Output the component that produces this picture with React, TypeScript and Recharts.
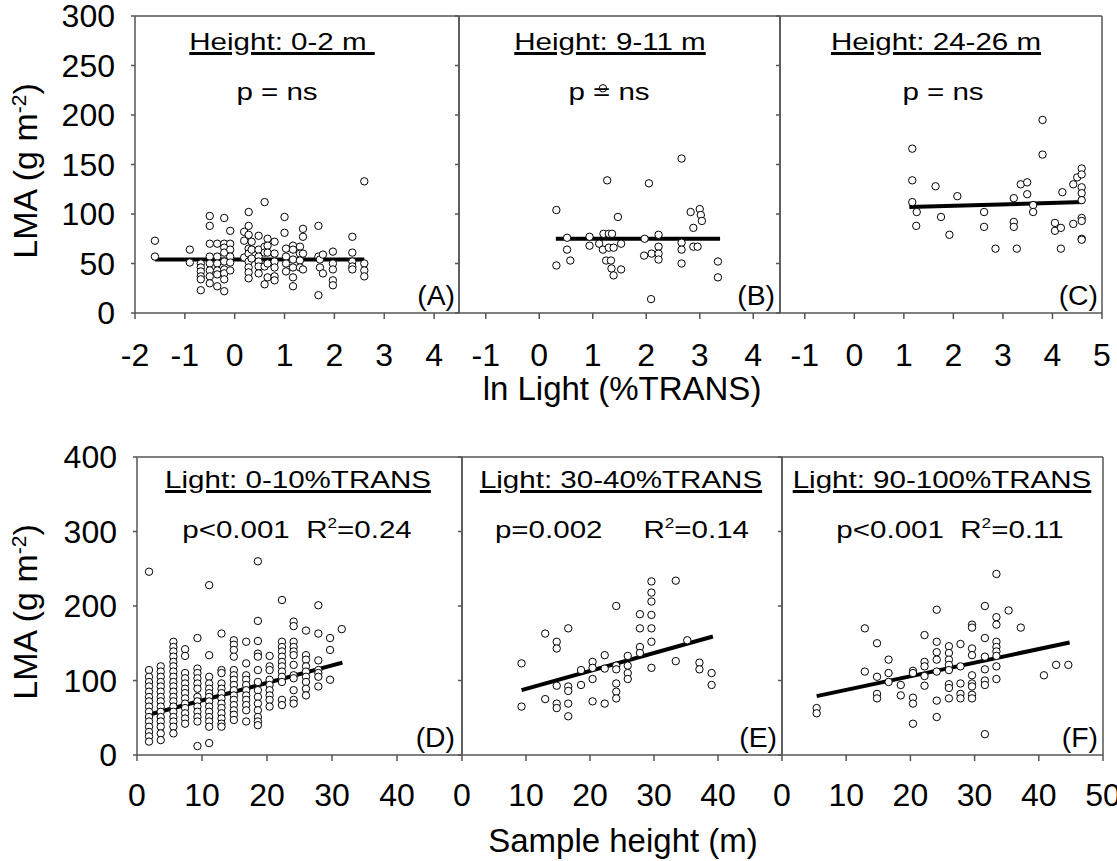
import { ScatterChart, Scatter, XAxis, YAxis, ReferenceLine } from "recharts";
import type { ReactNode } from "react";

const FONT = '"Liberation Sans", Arial, Helvetica, sans-serif';
const AXIS = "#555";

// top row: LMA against ln light, one panel per height class
const xTicksA = [-2, -1, 0, 1, 2, 3, 4];
const xTicksB = [-1, 0, 1, 2, 3, 4];
const xTicksC = [-1, 0, 1, 2, 3, 4, 5];
const yTicksTop = [0, 50, 100, 150, 200, 250, 300];

// [ln light, LMA values at that light]
const colsA: [number, number[]][] = [
  [-1.6, [73, 57]],
  [-0.9, [64, 51]],
  [-0.68, [50, 46, 42, 37, 34, 23]],
  [-0.5, [98, 88, 70, 57, 50, 43, 37, 30]],
  [-0.35, [70, 57, 50, 43, 39, 27]],
  [-0.21, [96, 70, 66, 61, 52, 44, 40, 34, 22]],
  [-0.09, [83, 70, 64, 57, 51, 43]],
  [0.19, [82, 73, 56]],
  [0.28, [102, 88, 79, 65, 60, 52, 46, 41, 35]],
  [0.34, [72, 64, 55]],
  [0.48, [78, 64, 57, 52, 47, 40]],
  [0.6, [112, 67, 61, 47, 29]],
  [0.66, [75, 68, 61, 50, 36]],
  [0.8, [72, 60, 52, 46, 37, 33]],
  [1.0, [97, 81]],
  [1.03, [65, 57, 50, 42]],
  [1.17, [68, 64, 54, 46, 36, 27]],
  [1.31, [67, 60, 53, 46]],
  [1.37, [85, 77, 60, 44]],
  [1.68, [88, 57, 18]],
  [1.71, [54, 46]],
  [1.77, [59, 40]],
  [1.97, [62, 50, 44, 33, 28]],
  [2.36, [77, 61, 52, 47, 44]],
  [2.6, [133, 50, 43, 37]],
];
const fitA: [number, number][] = [[-1.6, 54], [2.6, 54]];

const pairsB: [number, number][] = [
  [0.32, 104], [0.32, 48], [0.52, 76], [0.52, 64], [0.58, 53],
  [0.94, 77], [0.94, 68], [1.12, 70], [1.19, 64], [1.2, 80],
  [1.27, 134], [1.3, 80], [1.36, 80], [1.3, 66], [1.39, 66],
  [1.25, 53], [1.34, 53], [1.35, 45], [1.39, 38], [1.47, 97],
  [1.53, 70], [1.53, 44], [1.19, 227], [1.97, 75], [1.96, 58],
  [2.05, 131], [2.1, 60], [2.23, 79], [2.23, 67], [2.23, 60],
  [2.23, 54], [2.09, 14], [2.66, 156], [2.66, 71], [2.66, 64],
  [2.66, 50], [2.83, 102], [2.88, 86], [2.88, 67], [2.96, 67],
  [3.0, 105], [3.02, 99], [3.04, 93], [3.34, 52], [3.34, 36],
];
const fitB: [number, number][] = [[0.31, 75], [3.38, 75]];

const pairsC: [number, number][] = [
  [1.17, 166], [1.17, 134], [1.17, 112], [1.26, 102], [1.25, 88],
  [1.64, 128], [1.75, 97], [1.92, 79], [2.08, 118], [2.62, 102],
  [2.62, 87], [2.85, 65], [3.22, 116], [3.22, 92], [3.22, 87],
  [3.28, 65], [3.36, 130], [3.49, 132], [3.49, 120], [3.61, 109],
  [3.61, 102], [3.8, 195], [3.8, 160], [4.05, 91], [4.05, 83],
  [4.17, 86], [4.17, 65], [4.2, 122], [4.42, 130], [4.42, 90],
  [4.5, 137], [4.59, 146], [4.59, 140], [4.59, 127], [4.59, 121],
  [4.59, 114], [4.59, 96], [4.59, 93], [4.59, 75], [4.59, 74],
];
const fitC: [number, number][] = [[1.11, 107], [4.62, 112]];

// bottom row: LMA against sample height, one panel per light class
const xTicksHeight = [0, 10, 20, 30, 40];
const xTicksHeightF = [0, 10, 20, 30, 40, 50];
const yTicksBottom = [0, 100, 200, 300, 400];

// [sample height, LMA values at that height]
const colsD: [number, number[]][] = [
  [1.85, [246, 114, 105, 98, 92, 85, 78, 72, 65, 58, 51, 45, 38, 31, 25, 18]],
  [3.65, [119, 112, 105, 98, 92, 85, 78, 72, 65, 58, 51, 45, 38, 29, 20]],
  [5.6, [152, 145, 139, 132, 125, 119, 112, 105, 98, 92, 85, 78, 72, 65, 58, 51, 45, 38, 29]],
  [7.4, [142, 133, 110, 103, 96, 89, 83, 76, 69, 63, 56, 49, 42]],
  [9.3, [157, 116, 110, 103, 96, 89, 78, 72, 65, 58, 51, 45, 12]],
  [11.1, [228, 134, 105, 96, 89, 83, 78, 72, 65, 58, 51, 45, 38, 16]],
  [13.0, [163, 114, 110, 96, 89, 83, 76, 69, 63, 56, 49, 42, 38]],
  [14.9, [154, 148, 141, 132, 114, 107, 101, 94, 87, 80, 74, 67, 60, 54, 47]],
  [16.8, [152, 123, 107, 101, 94, 87, 80, 74, 67, 60, 45]],
  [18.6, [260, 180, 153, 136, 132, 114, 98, 87, 78, 69, 60, 51, 45, 40]],
  [20.4, [133, 119, 114, 101, 94, 87, 80, 74, 65]],
  [22.3, [208, 152, 145, 139, 132, 125, 119, 112, 105, 98, 74, 67]],
  [24.1, [179, 173, 152, 145, 139, 134, 121, 107, 103, 87, 74, 69]],
  [26.0, [167, 134, 128, 119, 112, 105, 98, 89, 80]],
  [27.9, [201, 163, 127, 114, 110, 105, 92]],
  [29.7, [157, 141, 101]],
  [31.5, [169]],
];
const fitD: [number, number][] = [[1.8, 54], [31.6, 124]];

const colsE: [number, number[]][] = [
  [9.3, [123, 65]],
  [13.0, [163, 75]],
  [14.8, [152, 143, 93, 69, 63]],
  [16.6, [170, 92, 86, 69, 52]],
  [18.6, [114, 94]],
  [20.4, [125, 117, 102, 72]],
  [22.3, [134, 116, 69]],
  [24.1, [200, 120, 115, 96, 85, 76]],
  [25.9, [133, 120, 110, 102]],
  [27.8, [189, 170, 145, 137]],
  [29.6, [233, 218, 206, 188, 170, 152, 117]],
  [33.4, [234, 126]],
  [35.2, [154]],
  [37.1, [124, 115]],
  [39.0, [110, 94]],
];
const fitE: [number, number][] = [[9.3, 87], [39.2, 159]];

const colsF: [number, number[]][] = [
  [5.4, [63, 56]],
  [12.9, [170, 112]],
  [14.8, [150, 105, 82, 76]],
  [16.6, [128, 110, 98]],
  [18.5, [94, 80]],
  [20.4, [113, 110, 77, 69, 42]],
  [22.2, [161, 125, 119, 106, 93]],
  [24.1, [195, 152, 138, 128, 112, 73, 51]],
  [26.0, [146, 137, 128, 121, 114, 95, 90, 76]],
  [27.8, [149, 119, 96, 82, 76]],
  [29.6, [175, 171, 143, 134, 107, 96, 92, 81, 76]],
  [31.6, [200, 157, 132, 115, 100, 94, 28]],
  [33.4, [243, 185, 175, 152, 145, 139, 133, 119, 102]],
  [35.3, [194]],
  [37.2, [171]],
  [40.8, [107]],
  [42.7, [121]],
  [44.6, [121]],
];
const fitF: [number, number][] = [[5.4, 79], [44.8, 151]];

type Pt = { x: number; y: number };
const fromCols = (cols: [number, number[]][]): Pt[] =>
  cols.flatMap(([x, ys]) => ys.map((y) => ({ x, y })));
const fromPairs = (pairs: [number, number][]): Pt[] => pairs.map(([x, y]) => ({ x, y }));

function Dot(props: any) {
  const { cx, cy } = props;
  if (cx == null || cy == null) return <g />;
  return <circle cx={cx} cy={cy} r={3.7} fill="#fff" stroke="#000" strokeWidth={1} />;
}

interface PanelProps {
  left: number;
  top: number;
  width: number;
  height: number;
  yw: number;
  xDomain: [number, number];
  xTicks: number[];
  yDomain: [number, number];
  yTicks: number[];
  showY: boolean;
  tickGap: number;
  points: Pt[];
  fit: Pt[];
}

function Panel(p: PanelProps) {
  const RM = 30;
  const TP = 24;
  const XH = 80;
  const axisStyle = { stroke: AXIS, strokeWidth: 1.5 };
  const tickStyle = { fontSize: 32, fill: "#000", fontFamily: FONT };
  return (
    <div style={{ position: "absolute", left: p.left - p.yw, top: p.top - TP }}>
      <ScatterChart
        width={p.yw + p.width + RM}
        height={TP + p.height + XH}
        margin={{ top: TP, right: RM, bottom: 0, left: 0 }}
      >
        <XAxis
          type="number"
          dataKey="x"
          domain={p.xDomain}
          ticks={p.xTicks}
          allowDataOverflow
          interval={0}
          height={XH}
          tickSize={6}
          tickMargin={p.tickGap}
          axisLine={axisStyle}
          tickLine={axisStyle}
          tick={tickStyle}
        />
        <YAxis
          type="number"
          dataKey="y"
          domain={p.yDomain}
          ticks={p.yTicks}
          allowDataOverflow
          interval={0}
          width={p.yw}
          tickSize={4}
          tickMargin={16}
          axisLine={axisStyle}
          tickLine={axisStyle}
          tick={tickStyle}
          tickFormatter={p.showY ? undefined : () => ""}
        />
        <ReferenceLine y={p.yDomain[1]} stroke={AXIS} strokeWidth={1.5} />
        <ReferenceLine x={p.xDomain[1]} stroke={AXIS} strokeWidth={1.5} />
        <Scatter
          data={p.fit}
          line={{ stroke: "#000", strokeWidth: 4 }}
          shape={() => <g />}
          isAnimationActive={false}
        />
        <Scatter data={p.points} shape={Dot} isAnimationActive={false} />
      </ScatterChart>
    </div>
  );
}

interface TxtProps {
  x: number;
  y: number;
  size: number;
  sx?: number;
  anchor?: "start" | "middle" | "end";
  underline?: boolean;
  children: ReactNode;
}

// y is the baseline
function Txt({ x, y, size, sx = 1, anchor = "middle", underline, children }: TxtProps) {
  const tx = anchor === "middle" ? "-50%" : anchor === "end" ? "-100%" : "0";
  const origin = anchor === "middle" ? "center" : anchor === "end" ? "right" : "left";
  return (
    <div
      style={{
        position: "absolute",
        left: x,
        top: y - 0.8465 * size,
        fontSize: size,
        lineHeight: `${size}px`,
        fontFamily: FONT,
        whiteSpace: "pre",
        color: "#000",
        transform: `translateX(${tx}) scaleX(${sx})`,
        transformOrigin: origin,
        textDecoration: underline ? "underline" : "none",
        textDecorationThickness: "2.5px",
        textUnderlineOffset: "2px",
      }}
    >
      {children}
    </div>
  );
}

function R2({ v }: { v: string }) {
  return (
    <>
      R<span style={{ fontSize: "0.58em", verticalAlign: "0.75em", lineHeight: 0 }}>2</span>={v}
    </>
  );
}

function YTitle({ x, y }: { x: number; y: number }) {
  return (
    <div
      style={{
        position: "absolute",
        left: 0,
        top: 0,
        fontSize: 34,
        lineHeight: "34px",
        fontFamily: FONT,
        whiteSpace: "pre",
        transformOrigin: "0 0",
        transform: `translate(${x}px, ${y}px) rotate(-90deg) translate(-50%, -${0.8465 * 34}px)`,
      }}
    >
      LMA (g m<span style={{ fontSize: 21, verticalAlign: 11, lineHeight: 0 }}>-2</span>)
    </div>
  );
}

const T = 24;
const SX = 1.23;

export default function App() {
  const top = { top: 16, height: 297, yDomain: [0, 300] as [number, number], yTicks: yTicksTop, tickGap: 24 };
  const bot = { top: 457, height: 298, yDomain: [0, 400] as [number, number], yTicks: yTicksBottom, tickGap: 22 };
  return (
    <div
      style={{
        position: "absolute",
        left: 0,
        top: 0,
        width: 1117,
        height: 861,
        overflow: "hidden",
        background: "#fff",
        fontFamily: FONT,
      }}
    >
      <Panel {...top} left={135} width={324} yw={135} showY xDomain={[-2, 4.5]} xTicks={xTicksA} points={fromCols(colsA)} fit={fromPairs(fitA)} />
      <Panel {...top} left={459} width={321} yw={20} showY={false} xDomain={[-1.5, 4.5]} xTicks={xTicksB} points={fromPairs(pairsB)} fit={fromPairs(fitB)} />
      <Panel {...top} left={780} width={322} yw={20} showY={false} xDomain={[-1.5, 5]} xTicks={xTicksC} points={fromPairs(pairsC)} fit={fromPairs(fitC)} />

      <Panel {...bot} left={137} width={325} yw={137} showY xDomain={[0, 50]} xTicks={xTicksHeight} points={fromCols(colsD)} fit={fromPairs(fitD)} />
      <Panel {...bot} left={462} width={320} yw={20} showY={false} xDomain={[0, 50]} xTicks={xTicksHeight} points={fromCols(colsE)} fit={fromPairs(fitE)} />
      <Panel {...bot} left={782} width={321} yw={20} showY={false} xDomain={[0, 50]} xTicks={xTicksHeightF} points={fromCols(colsF)} fit={fromPairs(fitF)} />

      <Txt x={281.5} y={50} size={T} sx={SX} underline>{"Height: 0-2 m\u00a0"}</Txt>
      <Txt x={610} y={50} size={T} sx={SX} underline>Height: 9-11 m</Txt>
      <Txt x={935.5} y={50} size={T} sx={SX} underline>Height: 24-26 m</Txt>
      <Txt x={277} y={100} size={T} sx={SX}>p = ns</Txt>
      <Txt x={609} y={100} size={T} sx={SX}>p = ns</Txt>
      <Txt x={943} y={100} size={T} sx={SX}>p = ns</Txt>
      <Txt x={455} y={306} size={27} sx={1.05} anchor="end">(A)</Txt>
      <Txt x={775} y={306} size={27} sx={1.05} anchor="end">(B)</Txt>
      <Txt x={1098} y={306} size={27} sx={1.05} anchor="end">(C)</Txt>

      <Txt x={298} y={488} size={T} sx={SX} underline>Light: 0-10%TRANS</Txt>
      <Txt x={620.5} y={488} size={T} sx={SX} underline>Light: 30-40%TRANS</Txt>
      <Txt x={941.5} y={488} size={T} sx={SX} underline>Light: 90-100%TRANS</Txt>
      <Txt x={297} y={538} size={T} sx={SX}>p&lt;0.001{"  "}<R2 v="0.24" /></Txt>
      <Txt x={622} y={538} size={T} sx={SX}>p=0.002{"     "}<R2 v="0.14" /></Txt>
      <Txt x={950} y={538} size={T} sx={SX}>p&lt;0.001{"  "}<R2 v="0.11" /></Txt>
      <Txt x={455} y={748} size={27} sx={1.05} anchor="end">(D)</Txt>
      <Txt x={777} y={748} size={27} sx={1.05} anchor="end">(E)</Txt>
      <Txt x={1098} y={748} size={27} sx={1.05} anchor="end">(F)</Txt>

      <Txt x={622} y={400} size={33}>ln Light (%TRANS)</Txt>
      <Txt x={623} y={852} size={33}>Sample height (m)</Txt>
      <YTitle x={37} y={171} />
      <YTitle x={37} y={612} />
    </div>
  );
}
